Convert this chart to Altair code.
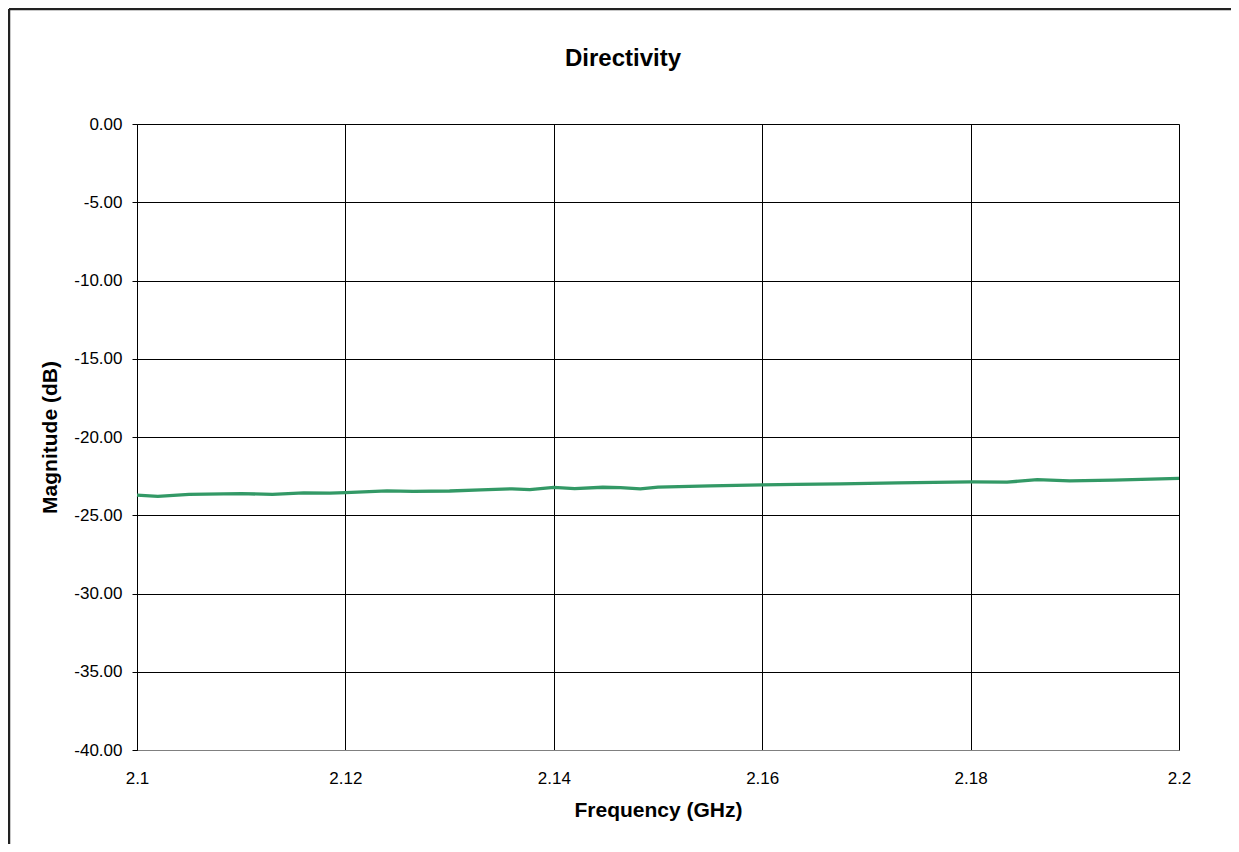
import altair as alt
import pandas as pd

freq = [2.100, 2.102, 2.105, 2.110, 2.113, 2.116, 2.1185, 2.120, 2.124, 2.1265,
        2.130, 2.133, 2.136, 2.1377, 2.140, 2.142, 2.1447, 2.1464, 2.1483, 2.150,
        2.155, 2.160, 2.1633, 2.1675, 2.173, 2.180, 2.1835, 2.1864, 2.1895, 2.1937, 2.200]
mag = [-23.71, -23.80, -23.66, -23.62, -23.67, -23.57, -23.59, -23.55, -23.44, -23.47,
       -23.45, -23.38, -23.31, -23.36, -23.22, -23.30, -23.21, -23.24, -23.32, -23.20,
       -23.12, -23.06, -23.03, -23.00, -22.93, -22.87, -22.88, -22.73, -22.80, -22.75, -22.65]
x_ticks = [2.1, 2.12, 2.14, 2.16, 2.18, 2.2]
y_ticks = [0, -5, -10, -15, -20, -25, -30, -35, -40]

df = pd.DataFrame({"freq": freq, "mag": mag})
FONT = "Liberation Sans"

x_enc = alt.X("freq:Q",
              scale=alt.Scale(domain=[2.1, 2.2], nice=False, zero=False),
              axis=alt.Axis(title="Frequency (GHz)", values=x_ticks, format=".2~f",
                            ticks=False, tickSize=0, labelPadding=20,
                            labelFont=FONT, labelFontSize=17, labelColor="#000",
                            titleFont=FONT, titleFontSize=21, titleFontWeight="bold",
                            titleColor="#000", titlePadding=13,
                            domainColor="#808080", domainWidth=1,
                            grid=True, gridColor="#000", gridWidth=1, gridOpacity=1,
                            labelFlush=False))
y_enc = alt.Y("mag:Q",
              scale=alt.Scale(domain=[-40, 0], nice=False, zero=False),
              axis=alt.Axis(title="Magnitude (dB)", values=y_ticks,
                            labelExpr="replace(format(datum.value, '.2f'), '\u2212', '-')",
                            ticks=True, tickSize=5, tickColor="#000", tickWidth=1,
                            labelPadding=10,
                            labelFont=FONT, labelFontSize=17, labelColor="#000",
                            titleFont=FONT, titleFontSize=21, titleFontWeight="bold",
                            titleColor="#000", titlePadding=13,
                            domainColor="#000", domainWidth=1,
                            grid=True, gridColor="#000", gridWidth=1, gridOpacity=1,
                            labelFlush=False))

line = alt.Chart(df).mark_line(color="#339966", strokeWidth=3.3).encode(x=x_enc, y=y_enc)

one = pd.DataFrame({"a": [0]})
top_edge = alt.Chart(one).mark_rule(color="#222", strokeWidth=2.5).encode(
    x=alt.value(-128), x2=alt.value(1300), y=alt.value(-115))
left_edge = alt.Chart(one).mark_rule(color="#222", strokeWidth=2.5).encode(
    x=alt.value(-128), y=alt.value(-115), y2=alt.value(900))

chart = alt.layer(line, top_edge, left_edge).properties(
    width=1042, height=626,
    title=alt.TitleParams("Directivity", font=FONT, fontSize=24, fontWeight="bold",
                          color="#000", anchor="middle", dx=-35, offset=-82,
                          baseline="alphabetic"),
    padding={"left": 129, "top": 116, "right": 52, "bottom": 94},
    autosize=alt.AutoSizeParams(type="none"),
).configure_view(stroke="#808080", strokeWidth=1).configure(background="white")

chart.save("out.html", embed_options={"renderer": "svg", "actions": False})
